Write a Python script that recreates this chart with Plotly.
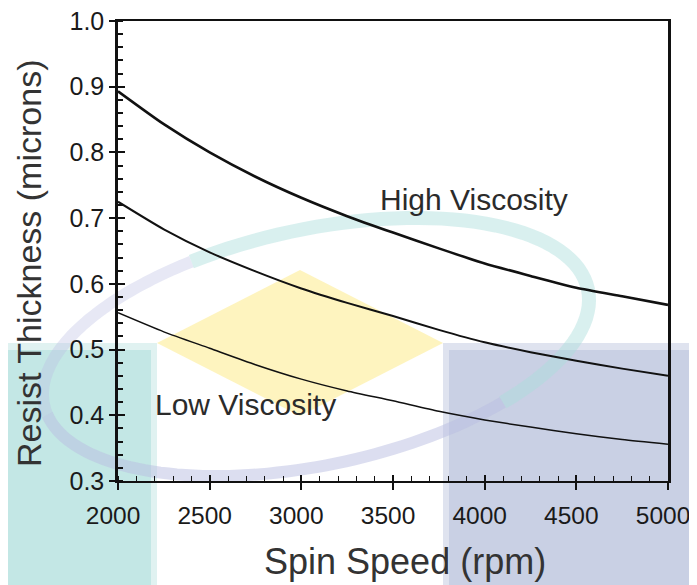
import math
import plotly.graph_objects as go

# ---- data ----
spin_rpm = [2000, 2250, 2500, 2750, 3000, 3250, 3500, 3750, 4000, 4250, 4500, 4750, 5000]
high_visc = [0.893, 0.843, 0.800, 0.763, 0.731, 0.703, 0.678, 0.654, 0.631, 0.612, 0.594, 0.581, 0.568]
mid_visc = [0.725, 0.683, 0.648, 0.619, 0.593, 0.571, 0.551, 0.530, 0.511, 0.496, 0.483, 0.471, 0.460]
low_visc = [0.556, 0.527, 0.502, 0.477, 0.455, 0.437, 0.422, 0.406, 0.393, 0.382, 0.372, 0.363, 0.356]

x_ticks = [2000, 2500, 3000, 3500, 4000, 4500, 5000]
y_ticks = [0.3, 0.4, 0.5, 0.6, 0.7, 0.8, 0.9, 1.0]
y_tick_text = ["0.3", "0.4", "0.5", "0.6", "0.7", "0.8", "0.9", "1.0"]
x_range = [2000, 5000]
y_range = [0.3, 1.0]

# page is rendered with an 8px body margin; compensate
OFF = 8
W, H = 697 - 2 * OFF, 585 - OFF
L, R, T, B = 118, 668, 21, 481   # plot area in page pixels


def px(X):
    return (X - L) / (R - L)


def py(Y):
    return (B - Y) / (B - T)


fig = go.Figure()

line_specs = [(high_visc, 2.6), (mid_visc, 2.0), (low_visc, 1.5)]
for ys, w in line_specs:
    fig.add_trace(go.Scatter(x=spin_rpm, y=ys, mode="lines",
                             line=dict(color="#111111", width=w, shape="spline", smoothing=0.6),
                             showlegend=False, hoverinfo="skip"))
# invisible carrier for the overlay axes that draw the inner half of the major ticks
fig.add_trace(go.Scatter(x=[x_range[0]], y=[y_range[0]], xaxis="x2", yaxis="y2", mode="markers",
                         marker=dict(opacity=0), showlegend=False, hoverinfo="skip"))

shapes = []
# watermark background pieces (decorative)
shapes.append(dict(type="rect", xref="paper", yref="paper", layer="below",
                   x0=px(-5), x1=px(157), y0=py(600), y1=py(343),
                   fillcolor="#e0f2f1", line=dict(width=0)))
shapes.append(dict(type="rect", xref="paper", yref="paper", layer="below",
                   x0=px(-5), x1=px(151), y0=py(600), y1=py(350),
                   fillcolor="#c3e7e5", line=dict(width=0)))
shapes.append(dict(type="rect", xref="paper", yref="paper", layer="below",
                   x0=px(443), x1=px(710), y0=py(600), y1=py(343),
                   fillcolor="#dfe3ef", line=dict(width=0)))
shapes.append(dict(type="rect", xref="paper", yref="paper", layer="below",
                   x0=px(449), x1=px(710), y0=py(600), y1=py(350),
                   fillcolor="#c9d0e4", line=dict(width=0)))
# diamond
dpath = "M {} {} L {} {} L {} {} L {} {} Z".format(
    px(157), py(343), px(300), py(270), px(443), py(343), px(300), py(416))
shapes.append(dict(type="path", xref="paper", yref="paper", layer="below",
                   path=dpath, fillcolor="rgba(253,240,170,0.75)", line=dict(width=0)))


# elliptical ring
def ring_path(t0, t1, n=60):
    cx, cy, a, b, th = 316, 347, 278, 118, math.radians(-12)
    pts = []
    for i in range(n + 1):
        t = math.radians(t0 + (t1 - t0) * i / n)
        X = cx + a * math.cos(t) * math.cos(th) - b * math.sin(t) * math.sin(th)
        Y = cy + a * math.cos(t) * math.sin(th) + b * math.sin(t) * math.cos(th)
        pts.append((px(X), py(Y)))
    return "M " + " L ".join("{:.4f} {:.4f}".format(p, q) for p, q in pts)


shapes.append(dict(type="path", xref="paper", yref="paper", layer="below",
                   path=ring_path(-112, 52), line=dict(color="rgba(170,222,220,0.45)", width=14)))
shapes.append(dict(type="path", xref="paper", yref="paper", layer="below",
                   path=ring_path(52, 175), line=dict(color="rgba(185,190,225,0.5)", width=12)))
shapes.append(dict(type="path", xref="paper", yref="paper", layer="below",
                   path=ring_path(175, 248), line=dict(color="rgba(185,190,225,0.35)", width=12)))

label_font = dict(family="Liberation Sans, Arial, sans-serif", size=30, color="#2b2b2b")
title_font_x = dict(family="Liberation Sans, Arial, sans-serif", size=36, color="#333333")
title_font_y = dict(family="Liberation Sans, Arial, sans-serif", size=34, color="#333333")

annotations = [
    dict(x=3942, y=0.728, xref="x", yref="y", text="High Viscosity", showarrow=False, font=label_font),
    dict(x=2693, y=0.416, xref="x", yref="y", text="Low Viscosity", showarrow=False, font=label_font),
    dict(x=px(405), y=py(561), xref="paper", yref="paper", text="Spin Speed (rpm)",
         showarrow=False, xanchor="center", yanchor="middle", font=title_font_x),
    dict(x=px(29), y=py(264), xref="paper", yref="paper", text="Resist Thickness (microns)",
         showarrow=False, xanchor="center", yanchor="middle", textangle=-90, font=title_font_y),
]

x_tick_font = dict(family="Liberation Sans, Arial, sans-serif", size=24.5, color="#1a1a1a")
y_tick_font = dict(family="Liberation Sans, Arial, sans-serif", size=25, color="#1a1a1a")

fig.update_layout(
    width=W, height=H, autosize=False,
    margin=dict(l=L - OFF, r=(W + OFF) - R, t=T - OFF, b=(H + OFF) - B),
    paper_bgcolor="white", plot_bgcolor="rgba(0,0,0,0)",
    shapes=shapes, annotations=annotations,
    xaxis=dict(range=x_range, tickvals=x_ticks, ticktext=[str(v) for v in x_ticks],
               automargin=False, ticklabeloverflow="allow",
               showgrid=False, zeroline=False, showline=True, linecolor="#111111", linewidth=2,
               mirror=True, ticks="outside", ticklen=7, tickwidth=2, tickcolor="#111111",
               minor=dict(dtick=100, ticks="inside", ticklen=5, tickwidth=1.2, tickcolor="#111111"),
               tickfont=x_tick_font, ticklabelstandoff=5, ticklabelshift=-5),
    yaxis=dict(range=y_range, tickvals=y_ticks, ticktext=y_tick_text,
               automargin=False, ticklabeloverflow="allow",
               showgrid=False, zeroline=False, showline=True, linecolor="#111111", linewidth=2.5,
               mirror=True, ticks="outside", ticklen=6, tickwidth=2, tickcolor="#111111",
               minor=dict(dtick=0.02, ticks="inside", ticklen=5, tickwidth=1.5, tickcolor="#111111"),
               tickfont=y_tick_font),
    xaxis2=dict(range=x_range, tickvals=x_ticks, overlaying="x", side="bottom", anchor="y2",
                automargin=False, showticklabels=False, showgrid=False, zeroline=False,
                showline=False, ticks="inside", ticklen=6, tickwidth=2, tickcolor="#111111"),
    yaxis2=dict(range=y_range, tickvals=y_ticks, overlaying="y", side="left", anchor="x2",
                automargin=False, showticklabels=False, showgrid=False, zeroline=False,
                showline=False, ticks="inside", ticklen=7, tickwidth=2, tickcolor="#111111"),
)

fig.write_html("out.html")
